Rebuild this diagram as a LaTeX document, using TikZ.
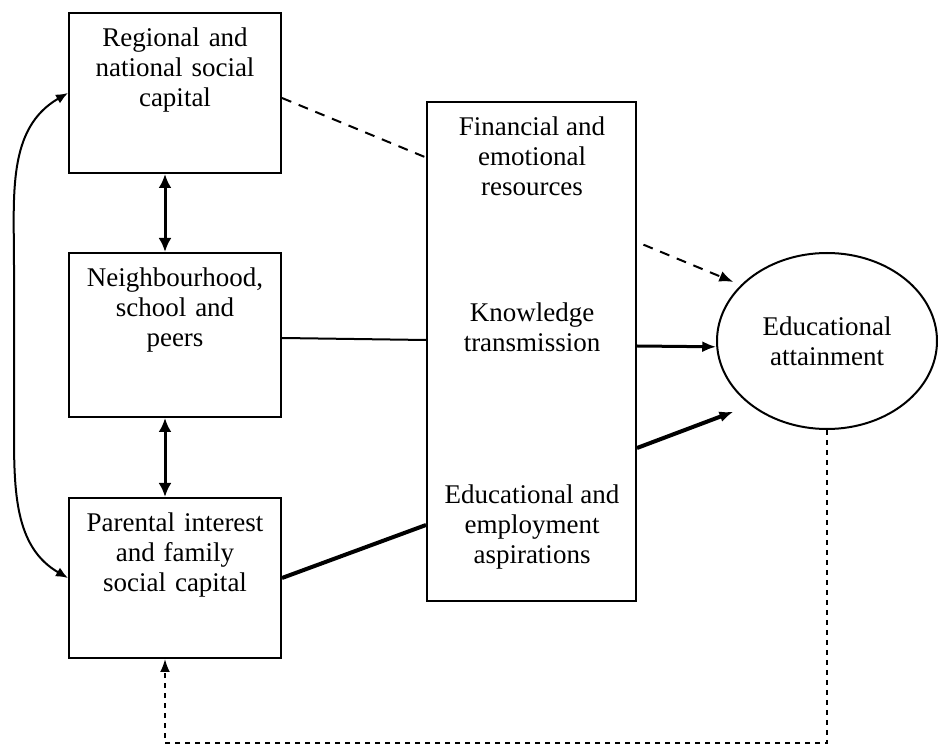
\documentclass[tikz,border=0pt]{standalone}
\usepackage{fontspec}
\setmainfont{Liberation Serif}
\usetikzlibrary{arrows.meta,calc,shapes.geometric}

\begin{document}
\begin{tikzpicture}[x=0.5pt, y=-0.5pt,
    every node/.style={font=\fontsize{13.5}{15}\selectfont},
    box/.style={draw, line width=1pt, inner sep=0pt, text width=106pt, align=center, text height=17pt},
    midbox/.style={draw, line width=1pt, inner sep=0pt, minimum width=104.5pt, minimum height=249.5pt},
    txt/.style={align=center},
    link/.style={line width=1pt},
    heavy/.style={line width=2pt},
    dash1/.style={line width=1pt, dash pattern=on 5pt off 4pt},
    fb/.style={line width=1pt, dash pattern=on 2.5pt off 2.5pt, -{Latex[length=6.5pt,width=5pt]}},
    pair/.style={line width=1.5pt, {Latex[length=7pt,width=6.5pt]}-{Latex[length=7pt,width=6.5pt]}},
    loop/.style={line width=1pt, {Latex[length=6pt,width=5pt]}-{Latex[length=6pt,width=5pt]}},
    tip/.style={-{Latex[length=7pt,width=5.5pt]}}]
    \useasboundingbox (0,0) rectangle (938,753);

    % left column
    \node[box, text depth=63pt] (reg) at (175,93) {Regional and\\ national social\\ capital};
    \node[box, text depth=65pt] (neigh) at (175,335) {Neighbourhood,\\ school and\\ peers};
    \node[box, text depth=63pt] (par) at (175,578) {Parental interest\\ and family\\ social capital};

    % middle column
    \node[midbox] (mid) at (531.5,351.5) {};
    \node[txt] (fin) at (532,156) {Financial and\\ emotional\\ resources};
    \node[txt] (know) at (532,327.5) {Knowledge\\ transmission};
    \node[txt] (asp) at (532,527.5) {Educational and\\ employment\\ aspirations};

    % outcome
    \node[draw, ellipse, line width=1pt, inner sep=0pt, minimum width=110pt, minimum height=88pt, align=center] (att) at (827,341) {Educational\\ attainment};
    \coordinate (low) at (0,743);

    % links between the left boxes
    \draw[pair] ([xshift=-5pt]reg.south) -- ([xshift=-5pt]neigh.north);
    \draw[pair] ([xshift=-5pt]neigh.south) -- ([xshift=-5pt]par.north);
    \draw[loop] (par.west) to[out=150, in=-90] (14,430) -- (14,265) to[out=90, in=210] (reg.west);

    % left column into the middle box
    \draw[dash1] ($(reg.east)+(0,5)$) -- ($(mid.west)+(0,-194)$);
    \draw[link] ($(neigh.east)+(0,3)$) -- ($(mid.west)+(0,-11.5)$);
    \draw[heavy] (par.east) -- ($(mid.west)+(0,173.5)$);

    % middle box into attainment
    \draw[dash1, tip, shorten <=3.5pt, shorten >=4pt] ($(mid.east)+(0,-109.5)$) -- (att.147.6);
    \draw[link, line width=1.5pt, tip] ($(mid.east)+(0,-5.5)$) -- (att.183);
    \draw[heavy, tip, shorten >=9pt] ($(mid.east)+(0,96.5)$) -- (att.220);

    % feedback
    \draw[fb] (att.south) -- (att.south |- low) -| ([xshift=-5pt]par.south);
\end{tikzpicture}
\end{document}
